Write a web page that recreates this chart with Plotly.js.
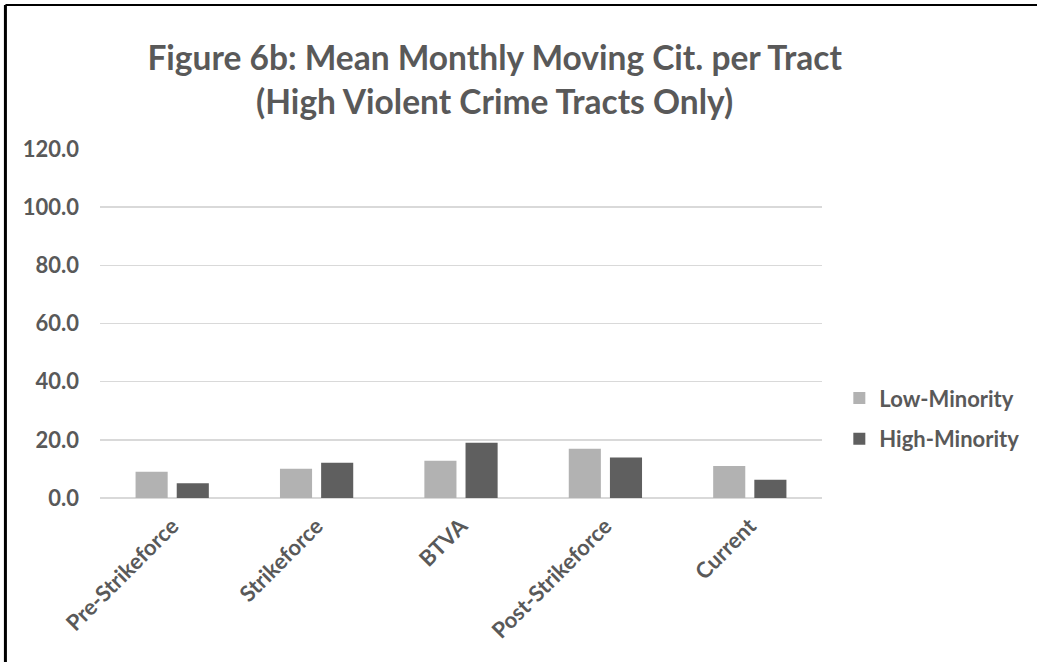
<!DOCTYPE html>
<html>
<head>
<meta charset="utf-8">
<script src="https://cdn.plot.ly/plotly-3.0.1.min.js"></script>
<style>html,body{margin:0;padding:0;background:#fff;}#chart{width:1037px;height:662px;}</style>
</head>
<body>
<div id="chart"></div>
<script>
const categories = ["Pre-Strikeforce", "Strikeforce", "BTVA", "Post-Strikeforce", "Current"];
const lowMinority = [9.0, 10.1, 12.8, 16.9, 11.0];
const highMinority = [5.1, 12.1, 19.0, 13.9, 6.3];
const yTickVals = [0, 20, 40, 60, 80, 100, 120];

const fontFam = "Lato, 'Open Sans', sans-serif";
const grey = "#595959";

const traces = [
  {type: "bar", name: "Low-Minority", x: categories, y: lowMinority, legendgroup: "a",
   marker: {color: "#b2b2b2"}, hoverinfo: "y"},
  {type: "bar", name: "High-Minority", x: categories, y: highMinority, legendgroup: "b",
   marker: {color: "#5f5f5f"}, hoverinfo: "y"}
];

const layout = {
  width: 1037, height: 662,
  paper_bgcolor: "#fff", plot_bgcolor: "#fff",
  margin: {l: 100, r: 215, t: 149, b: 164},
  barmode: "group", bargap: 0.43, bargroupgap: 0.22,
  title: {
    text: "Figure 6b: Mean Monthly Moving Cit. per Tract<br>(High Violent Crime Tracts Only)",
    font: {family: fontFam, size: 33.5, color: grey, weight: "bold"},
    x: 0.477, xanchor: "center", y: 0.894, yanchor: "middle"
  },
  xaxis: {
    type: "category", tickangle: -45, showgrid: false, zeroline: false,
    showline: false, ticks: "", ticklabelstandoff: 10,
    tickfont: {family: fontFam, size: 22, color: grey, weight: "bold"}
  },
  yaxis: {
    range: [0, 120], tickvals: yTickVals, tickformat: ".1f",
    showgrid: true, gridcolor: "#d9d9d9", gridwidth: 1.5,
    zeroline: true, zerolinecolor: "#d9d9d9", zerolinewidth: 1.5,
    showline: false, ticks: "", ticklabelstandoff: 20,
    tickfont: {family: fontFam, size: 22, color: grey, weight: "bold"}
  },
  legend: {
    x: 1.024, y: 0.227, xanchor: "left", yanchor: "middle",
    font: {family: fontFam, size: 22, color: grey, weight: "bold"},
    tracegroupgap: 9, itemwidth: 30
  },
  showlegend: true,
  shapes: [
    {type: "line", xref: "paper", yref: "paper", x0: -0.131, x1: -0.131, y0: 1.4126, y1: -0.5,
     line: {color: "#000", width: 3}},
    {type: "line", xref: "paper", yref: "paper", x0: -0.131, x1: 1.31, y0: 1.4126, y1: 1.4126,
     line: {color: "#000", width: 2}}
  ]
};

Plotly.newPlot("chart", traces, layout, {displayModeBar: false, staticPlot: true});
</script>
</body>
</html>
